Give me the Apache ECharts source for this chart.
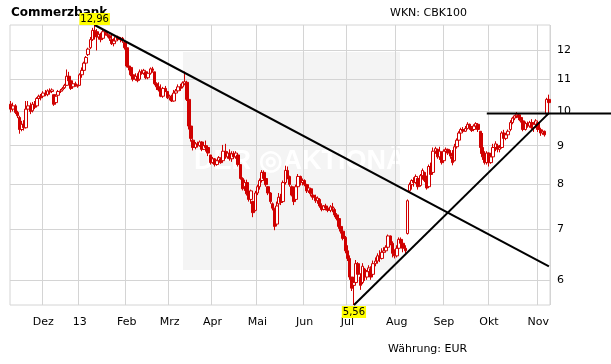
<!DOCTYPE html>
<html>
<head>
<meta charset="utf-8">
<script src="https://cdn.jsdelivr.net/npm/echarts@6/dist/echarts.min.js"></script>
<style>html,body{margin:0;padding:0;background:#fff}#c{width:611px;height:364px}</style>
</head>
<body>
<div id="c"></div>
<script>
// ---- data ----
const holidays = ['2012-12-24','2012-12-25','2012-12-26','2012-12-31','2013-01-01','2013-03-29','2013-04-01','2013-05-01'];
const firstDay = '2012-11-12';
const lastDay = '2013-11-08';
const monthStarts = ['2012-12-03','2013-01-02','2013-02-01','2013-03-01','2013-04-02','2013-05-02','2013-06-03','2013-07-01','2013-08-01','2013-09-02','2013-10-01','2013-11-01'];
const monthLabels = ['Dez','13','Feb','Mrz','Apr','Mai','Jun','Jul','Aug','Sep','Okt','Nov'];
const yTicks = [6,7,8,9,10,11,12];

// trading-day calendar (Xetra)
const categories = [];
(function(){
  const a = firstDay.split('-').map(Number), b = lastDay.split('-').map(Number);
  let t = Date.UTC(a[0], a[1]-1, a[2]);
  const end = Date.UTC(b[0], b[1]-1, b[2]);
  while (t <= end) {
    const d = new Date(t);
    const s = d.toISOString().slice(0,10);
    const wd = d.getUTCDay();
    if (wd !== 0 && wd !== 6 && holidays.indexOf(s) < 0) categories.push(s);
    t += 86400000;
  }
})();

// [open, close, low, high]
const candles = [
[10.20,10.05,9.95,10.30],[10.05,10.15,9.98,10.25],[10.15,9.95,9.90,10.20],[9.95,9.85,9.78,10.00],[9.80,9.45,9.33,9.85],
[9.45,9.60,9.40,9.70],[9.60,9.50,9.42,9.72],[9.50,10.05,9.48,10.30],[10.05,10.15,9.95,10.30],[10.15,9.98,9.90,10.25],
[10.00,10.20,9.95,10.27],[10.20,10.10,10.05,10.30],[10.15,10.38,10.10,10.42],[10.38,10.45,10.30,10.50],[10.45,10.40,10.32,10.52],
[10.45,10.55,10.40,10.61],[10.55,10.50,10.45,10.65],[10.50,10.62,10.45,10.67],[10.62,10.58,10.50,10.70],[10.60,10.65,10.55,10.70],
[10.50,10.20,10.15,10.50],[10.25,10.45,10.20,10.50],[10.48,10.60,10.45,10.65],[10.60,10.62,10.55,10.68],[10.65,10.70,10.60,10.75],
[10.72,10.80,10.68,10.85],[10.80,11.10,10.78,11.33],[11.10,10.95,10.85,11.25],[10.95,10.70,10.65,11.00],[10.75,10.85,10.70,10.90],
[10.85,10.80,10.75,10.92],[10.80,10.77,10.72,10.83],[10.80,11.15,10.78,11.20],[11.15,11.30,11.05,11.40],[11.30,11.55,11.25,11.60],
[11.55,11.75,11.50,11.80],[11.85,12.05,11.80,12.10],[12.10,12.40,12.05,12.50],[12.40,12.75,12.35,12.85],[12.75,12.70,12.40,12.96],
[12.70,12.50,12.00,12.80],[12.50,12.60,12.40,12.68],[12.60,12.40,12.30,12.66],[12.45,12.70,12.40,12.78],[12.70,12.62,12.55,12.75],
[12.60,12.55,12.48,12.68],[12.55,12.45,12.35,12.60],[12.40,12.25,12.20,12.58],[12.25,12.35,12.15,12.45],[12.35,12.50,12.30,12.55],
[12.50,12.40,12.35,12.55],[12.40,12.45,12.30,12.50],[12.45,12.35,12.28,12.50],[12.30,12.10,12.03,12.35],[12.10,11.45,11.40,12.28],
[11.45,11.40,11.30,11.55],[11.40,11.15,11.10,11.45],[11.15,11.00,10.93,11.25],[11.00,11.10,10.95,11.20],[11.10,10.95,10.90,11.20],
[11.00,11.25,10.95,11.33],[11.25,11.20,11.15,11.33],[11.20,11.30,11.15,11.35],[11.25,11.05,11.00,11.26],[11.05,11.20,11.00,11.25],
[11.20,11.35,11.15,11.40],[11.35,11.30,11.22,11.42],[11.25,10.85,10.80,11.25],[10.85,10.75,10.65,10.90],[10.75,10.65,10.60,10.90],
[10.65,10.45,10.42,10.83],[10.45,10.70,10.40,10.75],[10.70,10.60,10.58,10.78],[10.60,10.40,10.36,10.62],[10.40,10.45,10.32,10.50],
[10.45,10.30,10.27,10.50],[10.30,10.55,10.28,10.65],[10.55,10.62,10.50,10.68],[10.62,10.75,10.58,10.83],[10.75,10.70,10.62,10.85],
[10.75,10.88,10.70,10.93],[10.85,10.92,10.80,11.26],[10.90,10.35,10.30,10.95],[10.35,9.55,9.45,10.40],[9.55,9.20,9.11,9.65],
[9.15,8.95,8.87,9.20],[8.95,9.05,8.90,9.10],[9.05,9.00,8.95,9.11],[9.00,9.10,8.97,9.14],[9.10,8.90,8.85,9.12],
[8.90,9.00,8.88,9.05],[9.00,8.95,8.84,9.14],[8.95,8.80,8.72,8.97],[8.75,8.55,8.50,8.75],[8.55,8.65,8.52,8.70],
[8.65,8.50,8.45,8.67],[8.50,8.60,8.47,8.63],[8.60,8.68,8.55,8.72],[8.65,8.55,8.52,8.68],[8.60,8.85,8.58,9.02],
[8.85,8.70,8.65,9.05],[8.70,8.80,8.65,8.85],[8.80,8.65,8.60,8.90],[8.65,8.78,8.57,8.85],[8.78,8.70,8.65,8.85],
[8.70,8.80,8.65,8.85],[8.75,8.50,8.45,8.80],[8.50,8.15,8.12,8.50],[8.15,7.90,7.86,8.18],[7.95,8.05,7.85,8.12],
[8.05,7.78,7.74,8.12],[7.80,7.65,7.60,7.90],[7.65,7.85,7.55,7.88],[7.60,7.35,7.25,7.62],[7.40,7.80,7.38,7.85],
[7.80,7.95,7.75,8.00],[7.95,8.10,7.88,8.15],[8.10,8.30,8.05,8.36],[8.30,8.15,8.10,8.35],[8.15,8.00,7.95,8.25],
[7.95,7.80,7.75,7.96],[7.80,7.60,7.55,7.82],[7.55,7.45,7.40,7.58],[7.45,7.05,6.97,7.45],[7.10,7.50,7.05,7.60],
[7.55,7.70,7.50,7.80],[7.70,7.58,7.52,7.78],[7.60,8.05,7.58,8.10],[8.05,8.35,8.00,8.47],[8.35,8.20,8.13,8.45],
[8.20,8.00,7.95,8.22],[7.95,7.75,7.72,7.98],[7.75,7.60,7.52,7.85],[7.65,7.95,7.62,8.00],[7.95,8.20,7.90,8.26],
[8.20,8.05,7.98,8.22],[8.05,8.10,7.98,8.15],[8.10,8.00,7.96,8.13],[8.00,7.85,7.80,8.02],[7.85,7.92,7.80,7.96],
[7.90,7.78,7.72,7.92],[7.75,7.70,7.64,7.80],[7.70,7.62,7.57,7.76],[7.62,7.68,7.55,7.72],[7.65,7.50,7.46,7.68],
[7.50,7.42,7.38,7.56],[7.42,7.50,7.40,7.52],[7.50,7.45,7.40,7.55],[7.45,7.40,7.36,7.50],[7.40,7.48,7.36,7.52],
[7.48,7.45,7.36,7.57],[7.42,7.30,7.25,7.46],[7.30,7.22,7.18,7.34],[7.22,7.05,7.00,7.25],[7.05,6.95,6.90,7.12],
[6.95,6.80,6.76,6.97],[6.82,6.55,6.50,6.85],[6.55,6.40,6.35,6.66],[6.40,6.05,6.00,6.46],[6.05,5.85,5.80,6.05],
[5.90,5.95,5.56,6.02],[5.95,6.30,5.92,6.37],[6.30,6.10,6.00,6.33],[6.05,5.90,5.82,6.12],[5.95,6.25,5.92,6.31],
[6.20,6.05,5.98,6.22],[6.05,6.15,6.00,6.18],[6.15,6.22,6.07,6.27],[6.20,6.05,6.00,6.25],[6.10,6.30,6.08,6.36],
[6.30,6.35,6.25,6.42],[6.35,6.45,6.30,6.50],[6.45,6.40,6.33,6.56],[6.40,6.52,6.38,6.60],[6.52,6.55,6.42,6.62],
[6.55,6.62,6.52,6.66],[6.62,6.85,6.60,6.88],[6.85,6.70,6.66,6.86],[6.70,6.50,6.42,6.74],[6.50,6.45,6.40,6.58],
[6.45,6.60,6.42,6.66],[6.60,6.78,6.58,6.82],[6.78,6.70,6.62,6.82],[6.70,6.60,6.52,6.72],[6.60,6.55,6.50,6.66],
[6.90,7.62,6.88,7.65],[7.85,8.00,7.82,8.05],[8.00,8.10,7.88,8.13],[8.10,8.05,7.95,8.18],[8.05,8.20,8.02,8.25],
[8.15,7.95,7.88,8.18],[7.98,8.22,7.95,8.26],[8.22,8.35,8.12,8.40],[8.30,8.10,8.06,8.32],[8.10,7.92,7.88,8.22],
[7.95,8.45,7.92,8.50],[8.45,8.25,8.20,8.55],[8.30,8.85,8.28,8.95],[8.85,8.92,8.78,8.97],[8.90,8.70,8.65,8.92],
[8.70,8.85,8.62,8.97],[8.80,8.55,8.50,8.85],[8.60,8.85,8.55,8.90],[8.85,8.90,8.80,8.95],[8.90,8.80,8.75,8.92],
[8.80,8.72,8.65,8.88],[8.70,8.55,8.48,8.88],[8.60,8.97,8.58,9.05],[8.97,9.15,8.92,9.20],[9.15,9.35,9.10,9.40],
[9.35,9.45,9.30,9.50],[9.45,9.40,9.35,9.52],[9.40,9.48,9.38,9.55],[9.48,9.60,9.45,9.66],[9.60,9.50,9.44,9.62],
[9.50,9.42,9.38,9.55],[9.45,9.55,9.40,9.60],[9.55,9.62,9.48,9.66],[9.60,9.45,9.38,9.63],[9.40,8.95,8.78,9.40],
[8.95,8.70,8.62,9.35],[8.70,8.55,8.50,8.85],[8.55,8.80,8.50,8.85],[8.80,8.55,8.45,8.82],[8.55,8.70,8.52,8.75],
[8.70,8.95,8.68,9.05],[8.95,9.05,8.85,9.12],[9.00,8.90,8.82,9.05],[8.90,8.95,8.82,9.02],[8.95,9.35,8.92,9.40],
[9.35,9.20,9.15,9.44],[9.20,9.30,9.15,9.35],[9.30,9.40,9.25,9.45],[9.45,9.65,9.40,9.72],[9.65,9.78,9.60,9.82],
[9.78,9.85,9.72,9.88],[9.85,9.90,9.78,9.96],[9.88,9.80,9.72,9.93],[9.80,9.70,9.65,9.84],[9.70,9.45,9.40,9.72],
[9.45,9.62,9.42,9.68],[9.62,9.55,9.50,9.68],[9.55,9.65,9.50,9.70],[9.65,9.50,9.45,9.75],[9.50,9.60,9.38,9.65],
[9.60,9.70,9.52,9.75],[9.65,9.45,9.38,9.68],[9.45,9.35,9.27,9.50],[9.35,9.40,9.30,9.45],[9.40,9.30,9.25,9.42],
[9.90,10.35,9.88,10.40],[10.35,10.25,10.20,10.50]
];

// extremes and trend lines (category date, value)
const peak = {date:'2013-01-11', value:12.96, label:'12,96'};
const trough = {date:'2013-07-04', value:5.56, label:'5,56'};
const downTrend = [['2013-01-11',12.96],['2013-11-08',6.25]];
const upTrend = [['2013-07-04',5.56],['2013-11-08',9.93]];
const resistance = {from:'2013-09-30', value:9.92};

const RED = '#d00000';
const FONT = 'DejaVu Sans';

const chart = echarts.init(document.getElementById('c'), null, {renderer:'canvas'});
const isMonthStart = (i, v) => monthStarts.indexOf(v) >= 0;

const staticGraphics = [
  {type:'rect', z:-10, shape:{x:183, y:52, width:217, height:218}, style:{fill:'#f4f4f4'}, silent:true},
  {type:'text', z:-9, left:194, top:148, style:{text:'DER ◎AKTIONÄR', fontFamily:'Liberation Sans', fontWeight:'bold', fontSize:27, fill:'#ffffff'}, silent:true},
  {type:'text', z:-5, left:11, top:7, style:{text:'Commerzbank', fontFamily:FONT, fontSize:12, fontWeight:'bold', fill:'#000'}},
  {type:'text', left:390, top:8, style:{text:'WKN: CBK100', fontFamily:FONT, fontSize:11, fill:'#000'}},
  {type:'text', left:388, top:344, style:{text:'Währung: EUR', fontFamily:FONT, fontSize:11, fill:'#000'}}
];

chart.setOption({
  animation:false,
  backgroundColor:'#fff',
  grid:{left:10, right:61, top:25, bottom:59, show:true, borderColor:'#d4d4d4', borderWidth:1, backgroundColor:'transparent'},
  xAxis:{
    type:'category', data:categories, boundaryGap:true,
    axisLine:{show:false}, axisTick:{show:false, interval:isMonthStart},
    axisLabel:{interval:isMonthStart, margin:12, fontFamily:FONT, fontSize:11, color:'#000',
      formatter:(v)=>{const k=monthStarts.indexOf(v); return k>=0?monthLabels[k]:'';}},
    splitLine:{show:true, interval:isMonthStart, lineStyle:{color:'#d4d4d4', width:1}}
  },
  yAxis:{
    type:'log', logBase:10, position:'right', min:5.56, max:12.96, scale:true,
    axisLine:{show:false}, axisTick:{show:false, customValues:yTicks},
    axisLabel:{customValues:yTicks, margin:7, fontFamily:FONT, fontSize:11, color:'#000', formatter:(v)=>String(Math.round(v))},
    splitLine:{show:true, lineStyle:{color:'#d4d4d4', width:1}}
  },
  graphic:staticGraphics,
  series:[{
    type:'candlestick', data:candles, barWidth:3, clip:false, z:3,
    itemStyle:{color:'#ffffff', color0:RED, borderColor:RED, borderColor0:RED, borderWidth:1},
    markPoint:{
      symbol:'rect', symbolSize:0, silent:true, z:20,
      data:[
        {coord:[peak.date, peak.value], label:{show:true, position:'top', distance:0, formatter:peak.label}},
        {coord:[trough.date, trough.value], label:{show:true, position:'bottom', distance:1, formatter:trough.label}}
      ],
      label:{fontFamily:FONT, fontSize:10, color:'#000', backgroundColor:'#ffff00', padding:[1,1,0,1], lineHeight:11}
    },
    markLine:{
      symbol:['none','none'], silent:true, animation:false,
      lineStyle:{color:'#000', width:2, type:'solid'}, label:{show:false},
      data:[
        [{coord:downTrend[0]},{coord:downTrend[1]}],
        [{coord:upTrend[0]},{coord:upTrend[1]}]
      ]
    }
  }]
});

const p = chart.convertToPixel({xAxisIndex:0, yAxisIndex:0}, [resistance.from, resistance.value]);
chart.setOption({graphic:staticGraphics.concat([
  {type:'line', z:10, shape:{x1:p[0], y1:p[1], x2:611, y2:p[1]}, style:{stroke:'#000', lineWidth:2}}
])}, {replaceMerge:['graphic']});
</script>
</body>
</html>
